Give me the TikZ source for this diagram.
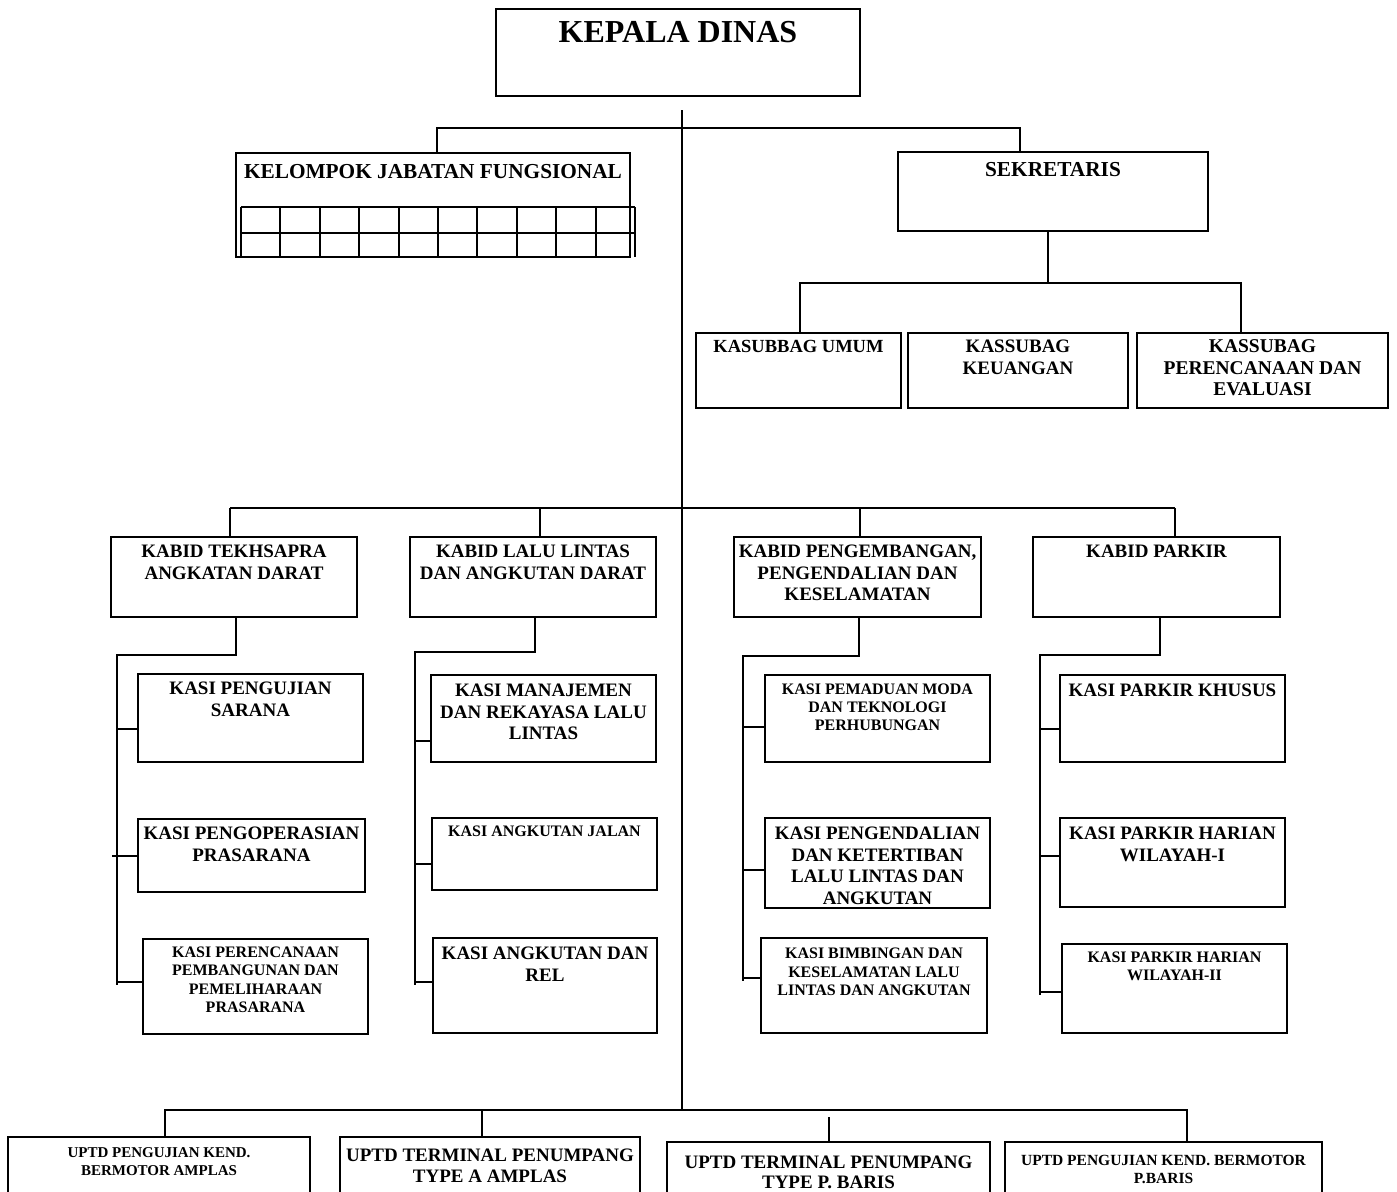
\documentclass[tikz,border=0pt]{standalone}
\usepackage{fontspec}
\setmainfont{Liberation Serif}
\usetikzlibrary{calc}
\tikzset{
 box/.style={draw, line width=2pt, inner sep=0pt, outer sep=0pt, anchor=north west},
 conn/.style={line width=1.9pt},
 thinconn/.style={line width=1.4pt},
 mainline/.style={line width=1.1pt},
 txt/.style={inner sep=0pt, outer sep=0pt, align=center, anchor=north},
}
\newcommand\obox[9]{%
 \node[box, minimum width={(#4)-(#2)}, minimum height={(#5)-(#3)}] (#1) at (#2,#3) {};
 \node[txt, font=\bfseries\fontsize{#6}{#7}\selectfont] (#1t) at ({((#2)+(#4))/2},#8) {#9};
}
\begin{document}
\begin{tikzpicture}[x=1pt,y=-1pt]
\useasboundingbox (0,0) rectangle (1397,1191);
\clip (0,0) rectangle (1397,1191);
% boxes
\obox{kd}{496}{9}{860}{96}{32}{36}{21}{KEPALA DINAS}
\obox{kjf}{236}{153}{630}{257}{21.3}{24}{164}{KELOMPOK JABATAN FUNGSIONAL}
\obox{sek}{898}{152}{1208}{231}{21.3}{24}{162}{SEKRETARIS}
\obox{ku}{696}{333}{901}{408}{18.5}{21.5}{340}{KASUBBAG UMUM}
\obox{kk}{908}{333}{1128}{408}{19}{21.5}{340}{KASSUBAG\\KEUANGAN}
\obox{kp}{1137}{333}{1388}{408}{19.5}{21.5}{340}{KASSUBAG\\PERENCANAAN DAN\\EVALUASI}
\obox{k1}{111}{537}{357}{617}{19}{21.5}{545}{KABID TEKHSAPRA\\ANGKATAN DARAT}
\obox{k2}{410}{537}{656}{617}{19}{21.5}{545}{KABID LALU LINTAS\\DAN ANGKUTAN DARAT}
\obox{k3}{734}{537}{981}{617}{19}{21.5}{545}{KABID PENGEMBANGAN,\\PENGENDALIAN DAN\\KESELAMATAN}
\obox{k4}{1033}{537}{1280}{617}{19}{21.5}{545}{KABID PARKIR}
\obox{a1}{138}{674}{363}{762}{19}{22}{682}{KASI PENGUJIAN\\SARANA}
\obox{a2}{138}{819}{365}{892}{19}{22}{827}{KASI PENGOPERASIAN\\PRASARANA}
\obox{a3}{143}{939}{368}{1034}{16}{18.3}{947}{KASI PERENCANAAN\\PEMBANGUNAN DAN\\PEMELIHARAAN\\PRASARANA}
\obox{b1}{431}{675}{656}{762}{19}{21.5}{684}{KASI MANAJEMEN\\DAN REKAYASA LALU\\LINTAS}
\obox{b2}{432}{818}{657}{890}{16}{18}{826}{KASI ANGKUTAN JALAN}
\obox{b3}{433}{938}{657}{1033}{19}{22}{947}{KASI ANGKUTAN DAN\\REL}
\obox{c1}{765}{675}{990}{762}{16}{18}{684}{KASI PEMADUAN MODA\\DAN TEKNOLOGI\\PERHUBUNGAN}
\obox{c2}{765}{818}{990}{908}{19}{21.5}{827}{KASI PENGENDALIAN\\DAN KETERTIBAN\\LALU LINTAS DAN\\ANGKUTAN}
\obox{c3}{761}{938}{987}{1033}{16}{18.5}{948}{KASI BIMBINGAN DAN\\KESELAMATAN LALU\\LINTAS DAN ANGKUTAN}
\obox{d1}{1060}{675}{1285}{762}{19}{22}{684}{KASI PARKIR KHUSUS}
\obox{d2}{1060}{818}{1285}{907}{19}{22}{827}{KASI PARKIR HARIAN\\WILAYAH-I}
\obox{d3}{1062}{944}{1287}{1033}{16}{18}{952}{KASI PARKIR HARIAN\\WILAYAH-II}
\obox{u1}{8}{1137}{310}{1215}{15}{18}{1148}{UPTD PENGUJIAN KEND.\\BERMOTOR AMPLAS}
\obox{u2}{340}{1137}{640}{1215}{19}{21}{1149}{UPTD TERMINAL PENUMPANG\\TYPE A AMPLAS}
\obox{u3}{667}{1142}{990}{1215}{19}{20}{1156}{UPTD TERMINAL PENUMPANG\\TYPE P. BARIS}
\obox{u4}{1005}{1142}{1322}{1215}{15.5}{18}{1155}{UPTD PENGUJIAN KEND. BERMOTOR\\P.BARIS}
% grid in KJF
\foreach \i in {0,...,10} \draw[conn] ({241+39.4*\i},207) -- ({241+39.4*\i},257);
\draw[conn] (241,207) -- (635,207);
\draw[conn] (241,233) -- (635,233);
% main vertical line
\coordinate (vtop) at (682,110);
\coordinate (vbot) at (682,1110);
\draw[mainline] (vtop) -- (vbot);
% top bus
\coordinate (b1L) at (437,128);
\coordinate (b1R) at (1020,128);
\draw[conn] (kjf.north -| b1L) -- (b1L) -- (b1R) -- (sek.north -| b1R);
% sekretaris bus
\coordinate (s2M) at (1048,283);
\coordinate (s2L) at (800,283);
\coordinate (s2R) at (1241,283);
\draw[conn] (sek.south -| s2M) -- (s2M);
\draw[conn] (ku.north -| s2L) -- (s2L) -- (s2R) -- (kp.north -| s2R);
% middle bus
\coordinate (m1) at (230,508);
\coordinate (m2) at (540,508);
\coordinate (m3) at (860,508);
\coordinate (m4) at (1175,508);
\draw[conn] (m1) -- (m4);
\draw[conn] (k1.north -| m1) -- (m1);
\draw[conn] (m2) -- (k2.north -| m2);
\draw[thinconn] (m3) -- (k3.north -| m3);
\draw[thinconn] (m4) -- (k4.north -| m4);
% column 1
\coordinate (p1) at (236,655);
\coordinate (q1) at (117,655);
\coordinate (r1) at (117,985);
\coordinate (t11) at (117,729);
\coordinate (t12) at (112,856);
\coordinate (t13) at (117,982);
\draw[conn] (k1.south -| p1) -- (p1) -- (q1) -- (r1);
\draw[conn] (t11) -- (a1.west |- t11);
\draw[conn] (t12) -- (a2.west |- t12);
\draw[conn] (t13) -- (a3.west |- t13);
% column 2
\coordinate (p2) at (535,652);
\coordinate (q2) at (415,652);
\coordinate (r2) at (415,985);
\coordinate (t21) at (415,741);
\coordinate (t22) at (415,864);
\coordinate (t23) at (415,982);
\draw[conn] (k2.south -| p2) -- (p2) -- (q2) -- (r2);
\draw[conn] (t21) -- (b1.west |- t21);
\draw[conn] (t22) -- (b2.west |- t22);
\draw[conn] (t23) -- (b3.west |- t23);
% column 3
\coordinate (p3) at (859,656);
\coordinate (q3) at (743,656);
\coordinate (r3) at (743,981);
\coordinate (t31) at (743,727);
\coordinate (t32) at (743,870);
\coordinate (t33) at (743,978);
\draw[conn] (k3.south -| p3) -- (p3) -- (q3) -- (r3);
\draw[conn] (t31) -- (c1.west |- t31);
\draw[conn] (t32) -- (c2.west |- t32);
\draw[conn] (t33) -- (c3.west |- t33);
% column 4
\coordinate (p4) at (1160,655);
\coordinate (q4) at (1040,655);
\coordinate (r4) at (1040,995);
\coordinate (t41) at (1040,729);
\coordinate (t42) at (1040,856);
\coordinate (t43) at (1040,992);
\draw[conn] (k4.south -| p4) -- (p4) -- (q4) -- (r4);
\draw[conn] (t41) -- (d1.west |- t41);
\draw[conn] (t42) -- (d2.west |- t42);
\draw[conn] (t43) -- (d3.west |- t43);
% bottom bus
\coordinate (z1) at (165,1110);
\coordinate (z2) at (482,1110);
\coordinate (z3) at (829,1117);
\coordinate (z4) at (1187,1110);
\draw[conn] (u1.north -| z1) -- (z1) -- (z4) -- (u4.north -| z4);
\draw[conn] (z2) -- (u2.north -| z2);
\draw[thinconn] (z3) -- (u3.north -| z3);
\end{tikzpicture}
\end{document}
